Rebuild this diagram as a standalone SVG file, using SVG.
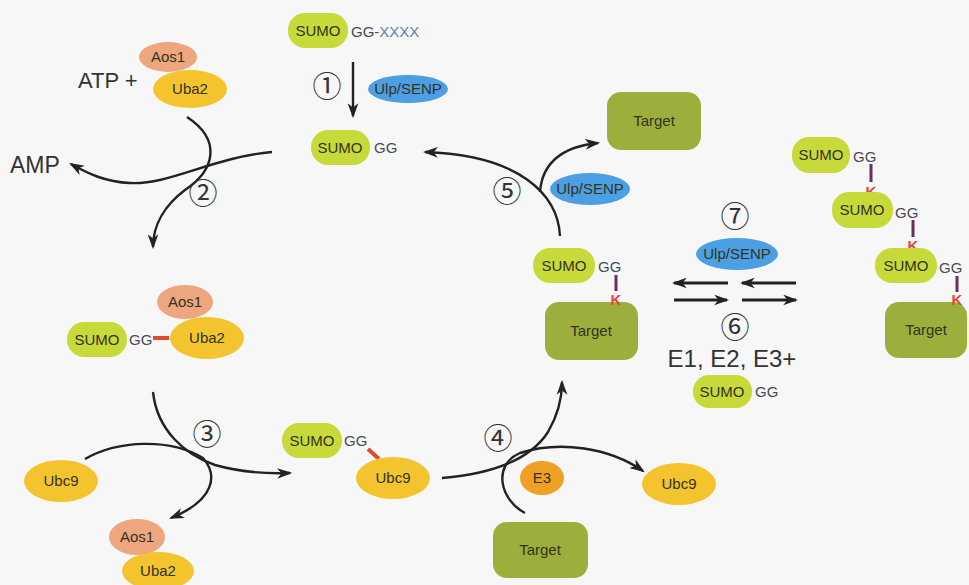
<svg xmlns="http://www.w3.org/2000/svg" width="969" height="585" viewBox="0 0 969 585">
<style>
.t{font-family:"Liberation Sans",Arial,sans-serif;font-size:15px;fill:#33331f;text-anchor:middle}
.big{font-family:"Liberation Sans",Arial,sans-serif;fill:#333;}
.num{font-family:"Noto Sans CJK JP","DejaVu Sans",sans-serif;font-size:29px;fill:#333;text-anchor:middle}
.sumo{fill:#c7da3a}
.tgt{fill:#9caf3c}
.aos{fill:#eea67f}
.uba{fill:#f3c42e}
.e3{fill:#f0a024}
.ulp{fill:#4c9fe2}
.gg{font-family:"Liberation Sans",Arial,sans-serif;font-size:15px;fill:#4a4a55}
.k{font-family:"Liberation Sans",Arial,sans-serif;font-size:15px;font-weight:bold;fill:#e8453c;text-anchor:middle}
.iso{stroke:#6b2d5e;stroke-width:3}
.red{stroke:#e24a2c;stroke-width:4}
.c{fill:none;stroke:#222;stroke-width:2.4}
.h{fill:none;stroke:#222;stroke-width:3}
</style>
<defs>
<marker id="ah" viewBox="0 0 14 10" refX="12" refY="5" markerWidth="15" markerHeight="11" markerUnits="userSpaceOnUse" orient="auto">
<path d="M0,0 L14,5 L0,10 L4,5 z" fill="#222"/>
</marker>
</defs>
<rect width="969" height="585" fill="#f7f7f7"/>

<g id="connectors">
<path class="c" d="M353,62 L353,116" marker-end="url(#ah)"/>
<path class="c" d="M187,117 C222,140 215,170 185,190 C165,205 153,225 153,247" marker-end="url(#ah)"/>
<path class="c" d="M272,152 C210,158 170,185 130,183 C105,182 87,173 71,164" marker-end="url(#ah)"/>
<path class="c" d="M153,392 C157,430 185,455 215,465 C240,472 265,474 290,473" marker-end="url(#ah)"/>
<path class="c" d="M85,459 C118,440 170,438 203,458 C218,475 215,500 171,518" marker-end="url(#ah)"/>
<path class="c" d="M442,478 C490,474 530,460 548,432 C558,415 562,400 562,382" marker-end="url(#ah)"/>
<path class="c" d="M525,513 C500,500 492,465 520,453 C560,440 610,448 643,471" marker-end="url(#ah)"/>
<path class="c" d="M560,236 C558,195 520,155 425,152" marker-end="url(#ah)"/>
<path class="c" d="M540,192 C542,165 560,147 598,143" marker-end="url(#ah)"/>
<path class="h" d="M728,283 L674,283" marker-end="url(#ah)"/>
<path class="h" d="M796,283 L742,283" marker-end="url(#ah)"/>
<path class="h" d="M674,300 L727,300" marker-end="url(#ah)"/>
<path class="h" d="M742,300 L796,300" marker-end="url(#ah)"/>
</g>

<g id="sumo-precursor">
<rect class="sumo" x="288" y="13" width="60" height="35" rx="17"/>
<text class="t" x="318" y="36">SUMO</text>
<text class="gg" x="351" y="37">GG-<tspan fill="#5a7fc0">XXXX</tspan></text>
</g>
<g id="step1">
<text class="num" x="327" y="97">①</text>
<ellipse class="ulp" cx="408" cy="89" rx="40" ry="14"/>
<text class="t" x="408" y="94">Ulp/SENP</text>
</g>
<g id="sumo-mature">
<rect class="sumo" x="311" y="130" width="59" height="35" rx="17"/>
<text class="t" x="340" y="153">SUMO</text>
<text class="gg" x="374" y="153">GG</text>
</g>
<g id="e1-free">
<ellipse class="aos" cx="168" cy="57" rx="29" ry="15"/>
<text class="t" x="168" y="62">Aos1</text>
<ellipse class="uba" cx="190" cy="89" rx="37" ry="19"/>
<text class="t" x="190" y="94">Uba2</text>
<text class="big" x="78" y="88" font-size="22">ATP +</text>
</g>
<g id="amp"><text class="big" x="10" y="173" font-size="23">AMP</text></g>
<g id="step2"><text class="num" x="203" y="204">②</text></g>
<g id="sumo-e1">
<ellipse class="aos" cx="185" cy="302" rx="28" ry="17"/>
<text class="t" x="185" y="307">Aos1</text>
<ellipse class="uba" cx="207" cy="338" rx="37" ry="21"/>
<text class="t" x="207" y="343">Uba2</text>
<rect class="sumo" x="67" y="322" width="60" height="35" rx="17"/>
<text class="t" x="97" y="345">SUMO</text>
<text class="gg" x="129" y="345">GG</text>
<line class="red" x1="153" y1="338" x2="169" y2="338"/>
</g>
<g id="step3"><text class="num" x="207" y="445">③</text></g>
<g id="ubc9-left">
<ellipse class="uba" cx="61" cy="481" rx="37" ry="21"/>
<text class="t" x="61" y="486">Ubc9</text>
</g>
<g id="e1-released">
<ellipse class="aos" cx="137" cy="537" rx="28" ry="18"/>
<text class="t" x="137" y="542">Aos1</text>
<ellipse class="uba" cx="158" cy="571" rx="36" ry="19"/>
<text class="t" x="158" y="576">Uba2</text>
</g>
<g id="sumo-e2">
<rect class="sumo" x="282" y="423" width="60" height="35" rx="17"/>
<text class="t" x="312" y="446">SUMO</text>
<text class="gg" x="344" y="446">GG</text>
<line class="red" x1="368" y1="449" x2="379" y2="459"/>
<ellipse class="uba" cx="393" cy="478" rx="37" ry="21"/>
<text class="t" x="393" y="483">Ubc9</text>
</g>
<g id="step4">
<text class="num" x="498" y="449">④</text>
<ellipse class="e3" cx="542" cy="478" rx="22" ry="17"/>
<text class="t" x="542" y="483">E3</text>
</g>
<g id="ubc9-right">
<ellipse class="uba" cx="679" cy="484" rx="37" ry="21"/>
<text class="t" x="679" y="489">Ubc9</text>
</g>
<g id="target-free">
<rect class="tgt" x="493" y="522" width="95" height="56" rx="14"/>
<text class="t" x="540" y="555">Target</text>
</g>
<g id="target-sumo">
<rect class="sumo" x="533" y="248" width="62" height="35" rx="17"/>
<text class="t" x="564" y="271">SUMO</text>
<text class="gg" x="598" y="272">GG</text>
<line class="iso" x1="616" y1="275" x2="616" y2="291"/>
<rect class="tgt" x="545" y="302" width="93" height="58" rx="14"/>
<text class="k" x="616" y="305">K</text>
<text class="t" x="591" y="336">Target</text>
</g>
<g id="step5">
<text class="num" x="507" y="202">⑤</text>
<ellipse class="ulp" cx="590" cy="189" rx="40" ry="16"/>
<text class="t" x="590" y="194">Ulp/SENP</text>
</g>
<g id="target-released">
<rect class="tgt" x="607" y="92" width="94" height="58" rx="14"/>
<text class="t" x="654" y="126">Target</text>
</g>
<g id="step7">
<text class="num" x="735" y="227">⑦</text>
<ellipse class="ulp" cx="737" cy="254" rx="41" ry="16"/>
<text class="t" x="737" y="259">Ulp/SENP</text>
</g>
<g id="step6">
<text class="num" x="735" y="338">⑥</text>
<text class="big" x="732" y="367" font-size="24" text-anchor="middle">E1, E2, E3+</text>
<rect class="sumo" x="693" y="375" width="59" height="33" rx="16"/>
<text class="t" x="722" y="397">SUMO</text>
<text class="gg" x="755" y="397">GG</text>
</g>
<g id="poly-sumo-chain">
<rect class="sumo" x="792" y="137" width="58" height="36" rx="17"/>
<text class="t" x="821" y="160">SUMO</text>
<text class="gg" x="853" y="162">GG</text>
<line class="iso" x1="871" y1="164" x2="871" y2="182"/>
<text class="k" x="871" y="197">K</text>
<rect class="sumo" x="832" y="192" width="61" height="36" rx="17"/>
<text class="t" x="862" y="215">SUMO</text>
<text class="gg" x="895" y="218">GG</text>
<line class="iso" x1="913" y1="220" x2="913" y2="237"/>
<text class="k" x="913" y="251">K</text>
<rect class="sumo" x="875" y="248" width="62" height="35" rx="17"/>
<text class="t" x="906" y="271">SUMO</text>
<text class="gg" x="939" y="273">GG</text>
<line class="iso" x1="957" y1="276" x2="957" y2="292"/>
<rect class="tgt" x="885" y="302" width="82" height="56" rx="14"/>
<text class="k" x="957" y="305">K</text>
<text class="t" x="926" y="335">Target</text>
</g>
</svg>
